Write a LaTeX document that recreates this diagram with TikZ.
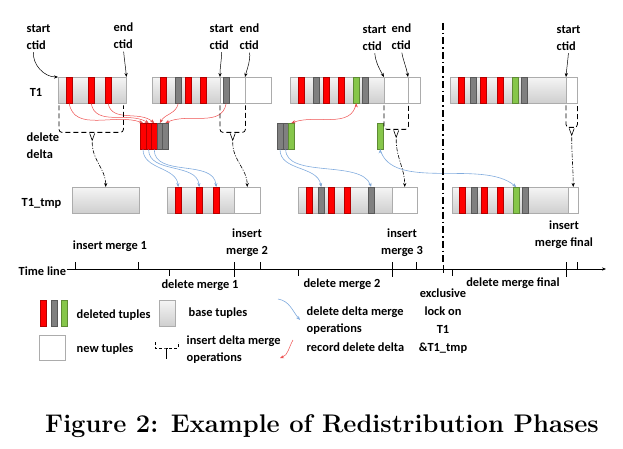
\documentclass[tikz,border=0pt]{standalone}
\usepackage{fontspec}
\newfontfamily\labfont{Carlito}
\usetikzlibrary{positioning,calc,arrows.meta}
\definecolor{tgreen}{RGB}{134,198,74}
\definecolor{tblue}{RGB}{130,172,222}
\definecolor{tred}{RGB}{238,80,80}
\tikzset{
lbl/.style={font=\labfont\bfseries\fontsize{12.4}{17}\selectfont, inner sep=0.5pt, align=left},
base/.style={draw=gray!65, top color=gray!8, bottom color=gray!38, inner sep=0, minimum height=26pt, anchor=north west},
newt/.style={draw=gray!65, fill=white, inner sep=0, minimum height=26pt, anchor=north west},
tup/.style={draw=#1!70!black, fill=#1, inner sep=0, minimum width=6pt, minimum height=26pt, anchor=north west, line width=0.4pt},
cell/.style={tup=#1, minimum width=5.6pt},
rec/.style={->, draw=tred, line width=0.5pt},
mrg/.style={->, draw=tblue, line width=0.6pt},
ins/.style={line width=0.8pt, dash pattern=on 5pt off 3pt},
insline/.style={->, line width=0.6pt, dash pattern=on 4pt off 1.5pt on 1pt off 1.5pt},
ptr/.style={->, line width=0.5pt, shorten <=2pt},
tick/.style={line width=0.8pt},
divider/.style={line width=1.4pt, dash pattern=on 7pt off 3pt on 1.5pt off 3pt},
}

\begin{document}
\begin{tikzpicture}[x=1pt,y=-1pt,>={Stealth[length=4pt,width=3.2pt]}]
	\useasboundingbox (0,0) rectangle (623,449);

	% T1
	\node[lbl] (t1lab) at (36,92) {T1};
	\node[base,minimum width=68pt] (b1) at (58,77) {};
	\foreach \x [count=\i] in {66,88,105}
		\node[tup=red] (b1s\i) at (\x,77) {};

	\node[base,minimum width=68pt] (b2) at (152,77) {};
	\node[newt,minimum width=25pt] (b2n1) at (220,77) {};
	\node[newt,minimum width=26pt] (b2n2) at (245,77) {};
	\foreach \x/\c [count=\i] in {160/red,175/gray,185/red,200/red,223/gray}
		\node[tup=\c] (b2s\i) at (\x,77) {};

	\node[base,minimum width=94pt] (b3) at (290,77) {};
	\node[newt,minimum width=24pt] (b3n1) at (384,77) {};
	\node[newt,minimum width=12pt] (b3n2) at (408,77) {};
	\foreach \x/\c [count=\i] in {298/red,313/gray,323/red,338/red,353/tgreen,362/gray}
		\node[tup=\c] (b3s\i) at (\x,77) {};

	\node[base,minimum width=116pt] (b4) at (450,77) {};
	\node[newt,minimum width=11pt] (b4n1) at (566,77) {};
	\foreach \x/\c [count=\i] in {458/red,470/gray,480/red,497/red,512/tgreen,521/gray}
		\node[tup=\c] (b4s\i) at (\x,77) {};

	% delete delta
	\node[lbl,anchor=west] (ddlab) at (26,146) {delete\\delta};
	\foreach \x/\c [count=\i] in {140/red,145.6/red,151.2/red,156.8/gray,162.4/gray}
		\node[cell=\c] (d1c\i) at (\x,123) {};
	\foreach \x/\c [count=\i] in {277/gray,282.7/gray,288.4/tgreen}
		\node[cell=\c] (d2c\i) at (\x,123) {};
	\node[tup=tgreen] (d3c1) at (377,123) {};

	% T1_tmp
	\node[lbl,anchor=west] (tmlab) at (21,203) {T1\_tmp};
	\node[base,minimum width=67pt] (tm1) at (72,187) {};

	\node[base,minimum width=67pt] (tm2) at (167,187) {};
	\node[newt,minimum width=26pt] (tm2n) at (234,187) {};
	\foreach \x [count=\i] in {175,196,213}
		\node[tup=red] (tm2s\i) at (\x,187) {};

	\node[base,minimum width=94pt] (tm3) at (298,187) {};
	\node[newt,minimum width=25pt] (tm3n) at (392,187) {};
	\foreach \x/\c [count=\i] in {306/red,318/gray,328/red,344/red,368/gray}
		\node[tup=\c] (tm3s\i) at (\x,187) {};

	\node[base,minimum width=116pt] (tm4) at (452,187) {};
	\node[newt,minimum width=10pt] (tm4n) at (568,187) {};
	\foreach \x/\c [count=\i] in {459/red,471/gray,481/red,497/red,513/tgreen,522/gray}
		\node[tup=\c] (tm4s\i) at (\x,187) {};

	% ctid labels
	\node[lbl,anchor=west] (cs1) at (26,37) {start\\ctid};
	\node[lbl,anchor=west] (ce1) at (113,36) {end\\ctid};
	\node[lbl,anchor=west] (cs2) at (209,37) {start\\ctid};
	\node[lbl,anchor=west] (ce2) at (239,37) {end\\ctid};
	\node[lbl,anchor=west] (cs3) at (362,38) {start\\ctid};
	\node[lbl,anchor=west] (ce3) at (391,37) {end\\ctid};
	\node[lbl,anchor=west] (cs4) at (556,38) {start\\ctid};

	\path[ptr]
	([xshift=-5pt]cs1.south) edge[out=-95,in=180] (b1.north west)
	(ce1.south) edge[out=-85,in=95] (b1.north east)
	(cs2.south) edge[out=-90,in=90] (b2n1.north west)
	(ce2.south) edge[out=-85,in=75] (b2n2.north west)
	(cs3.south) edge[out=-85,in=120] (b3n1.north west)
	(ce3.south) edge[out=-80,in=100] (b3n2.north west)
	(cs4.south) edge[out=-95,in=85] (b4n1.north west)
	;

	% record delete delta
	\path[rec]
	(b1s1.south) edge[out=-80,in=160] (d1c1.north)
	(b1s2.south) edge[out=-80,in=150] (d1c2.north)
	(b1s3.south) edge[out=-80,in=140] (d1c3.north)
	(b2s2.south) edge[out=-100,in=60] (d1c4.north)
	(b2s5.south) edge[out=-100,in=25] (d1c5.north)
	(b3s5.south) edge[out=-100,in=20] (d2c3.north)
	;

	% delete delta merge
	\path[mrg]
	(d1c1.south) edge[out=-90,in=95] (tm2s1.north)
	(d1c2.south) edge[out=-90,in=95] (tm2s2.north)
	(d1c3.south) edge[out=-90,in=95] (tm2s3.north)
	(d2c1.south) edge[out=-90,in=100] (tm3s2.north)
	(d2c2.south) edge[out=-90,in=110,looseness=0.8] (tm3s5.north)
	(d3c1.south) edge[out=-75,in=140,looseness=0.8] (tm4s5.north)
	;

	% insert delta merge
	\coordinate (k1) at ($(b1.south)+(0,29)$);
	\coordinate (k2) at ($(b2n1.south)+(0,29)$);
	\coordinate (k3) at ($(b3n1.south)+(0,26)$);
	\coordinate (k4) at ($(b4n1.south)+(0,24)$);
	\draw[ins,rounded corners=3pt] ($(b1.south west)+(1,2)$) |- (k1) -| ($(b1.south east)+(-3,2)$);
	\draw[ins,rounded corners=3pt] ($(b2n1.south west)+(0,2)$) |- (k2) -| ($(b2n1.south east)+(0,2)$);
	\draw[ins,rounded corners=3pt] ($(b3n1.south west)+(0,2)$) |- (k3) -| ($(b3n1.south east)+(0,2)$);
	\draw[ins,rounded corners=3pt] ($(b4n1.south west)+(0,2)$) |- (k4) -| ($(b4n1.south east)+(0,2)$);
	\foreach \k in {k1,k2,k3,k4}
		\draw[line width=0.6pt] ($(\k)+(-2.5,1)$) -- ($(\k)+(0,8)$) -- ($(\k)+(2.5,1)$);
	\path[insline]
	($(k1)+(0,10)$) edge[out=-90,in=90] (tm1.north)
	($(k2)+(0,10)$) edge[out=-90,in=90] (tm2n.north)
	($(k3)+(0,10)$) edge[out=-90,in=90] (tm3n.north)
	($(k4)+(0,10)$) edge[out=-90,in=90] (tm4n.north)
	;

	% phase divider
	\draw[divider] (443,23) -- (443,262);

	% time line
	\node[lbl,anchor=west] (tllab) at (18,271) {Time line};
	\coordinate (tlend) at (606,269);
	\draw[tick,->] (tllab.east |- tlend) -- (tlend);
	\foreach \x in {75,138,260,416,577}
		\draw[tick] (\x,269) -- ++(0,-7);
	\foreach \x in {169,298,452}
		\draw[tick] (\x,269) -- ++(0,7);
	\foreach \x in {234,392,566}
		\draw[tick] (\x,262) -- ++(0,15);
	\draw[tick] (443,265) -- ++(0,8);

	\node[lbl,align=center] (im1) at (110,246) {insert merge 1};
	\node[lbl,align=center] (im2) at (247,243) {insert\\merge 2};
	\node[lbl,align=center] (dm1) at (200,285) {delete merge 1};
	\node[lbl,align=center] (dm2) at (342,284) {delete merge 2};
	\node[lbl,align=center] (im3) at (402,243) {insert\\merge 3};
	\node[lbl,align=center] (dmf) at (513,283) {delete merge final};
	\node[lbl,align=center] (imf) at (564,235) {insert\\merge final};
	\node[lbl,align=center,font=\labfont\bfseries\fontsize{12.4}{18}\selectfont] (xlock) at (443,321) {exclusive\\lock on\\T1\\\&T1\_tmp};

	% legend
	\node[tup=red] (lgr) at (40,300) {};
	\node[tup=gray] (lgg) at (50.5,300) {};
	\node[tup=tgreen] (lggr) at (61,300) {};
	\node[lbl,anchor=west] (lgdel) at (76,315) {deleted tuples};
	\node[base,minimum width=16pt] (lgbase) at (159,300) {};
	\node[lbl,anchor=west] (lgbasetxt) at (188,313) {base tuples};
	\node[newt,minimum width=26pt,minimum height=25pt] (lgnew) at (39,335) {};
	\node[lbl,anchor=west] (lgnewtxt) at (76,349) {new tuples};
	\coordinate (lk) at (166.5,348);
	\draw[ins,dash pattern=on 3pt off 2pt] (155,342) |- (lk) -| (178,342);
	\draw[line width=0.6pt] (lk) -- ++(0,11);
	\node[lbl,anchor=west] (lgins) at (186,350) {insert delta merge\\operations};
	\coordinate (lbA) at (278,299);
	\coordinate (lbB) at (300,320);
	\draw[mrg] (lbA) to[out=-10,in=130] (lbB);
	\node[lbl,anchor=west] (lgmrg) at (306,321) {delete delta merge\\operations};
	\coordinate (lrA) at (293,340);
	\coordinate (lrB) at (280,358);
	\draw[rec] (lrA) to[out=-120,in=20] (lrB);
	\node[lbl,anchor=west] (lgrec) at (306,347) {record delete delta};

	% caption
	\node[font=\fontsize{25.5}{30}\bfseries\selectfont] (cap) at (322,426) {Figure 2: Example of Redistribution Phases};
\end{tikzpicture}
\end{document}
